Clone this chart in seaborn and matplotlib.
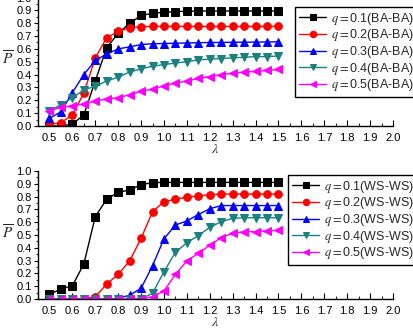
import numpy as np
import pandas as pd
import seaborn as sns
import matplotlib
matplotlib.use("Agg")
import matplotlib.pyplot as plt
from matplotlib.ticker import MultipleLocator, FormatStrFormatter

lam = [0.5, 0.55, 0.6, 0.65, 0.7, 0.75, 0.8, 0.85, 0.9, 0.95, 1.0,
       1.05, 1.1, 1.15, 1.2, 1.25, 1.3, 1.35, 1.4, 1.45, 1.5]

ba_q01 = [0.0, 0.0, 0.015, 0.086, 0.35, 0.61, 0.72, 0.80, 0.86, 0.877, 0.885,
          0.89, 0.893, 0.895, 0.895, 0.895, 0.895, 0.895, 0.895, 0.895, 0.895]
ba_q02 = [0.013, 0.026, 0.086, 0.256, 0.53, 0.687, 0.736, 0.765, 0.773, 0.775, 0.775,
          0.775, 0.775, 0.775, 0.775, 0.775, 0.775, 0.775, 0.775, 0.775, 0.775]
ba_q03 = [0.06, 0.11, 0.26, 0.40, 0.51, 0.56, 0.60, 0.616, 0.634, 0.64, 0.642,
          0.644, 0.646, 0.648, 0.65, 0.65, 0.652, 0.652, 0.653, 0.654, 0.655]
ba_q04 = [0.12, 0.165, 0.22, 0.28, 0.31, 0.35, 0.38, 0.42, 0.445, 0.465, 0.478,
          0.49, 0.50, 0.515, 0.52, 0.525, 0.53, 0.535, 0.54, 0.54, 0.545]
ba_q05 = [0.117, 0.146, 0.157, 0.17, 0.196, 0.21, 0.22, 0.243, 0.27, 0.287, 0.313,
          0.334, 0.35, 0.37, 0.385, 0.40, 0.41, 0.42, 0.425, 0.433, 0.44]

ws_q01 = [0.036, 0.078, 0.104, 0.273, 0.643, 0.78, 0.833, 0.852, 0.893, 0.909, 0.911,
          0.911, 0.911, 0.911, 0.911, 0.911, 0.911, 0.911, 0.911, 0.911, 0.911]
ws_q02 = [0.0, 0.0, 0.0, 0.0, 0.018, 0.117, 0.193, 0.297, 0.474, 0.682, 0.76,
          0.78, 0.794, 0.807, 0.815, 0.82, 0.82, 0.82, 0.82, 0.82, 0.82]
ws_q03 = [0.0, 0.0, 0.0, 0.0, 0.0, 0.0, 0.005, 0.03, 0.083, 0.26, 0.47,
          0.578, 0.61, 0.66, 0.705, 0.73, 0.73, 0.73, 0.73, 0.73, 0.73]
ws_q04 = [0.0, 0.0, 0.0, 0.0, 0.0, 0.0, 0.0, 0.0, 0.0, 0.045, 0.213,
          0.365, 0.44, 0.495, 0.56, 0.604, 0.63, 0.635, 0.635, 0.635, 0.635]
ws_q05 = [0.0, 0.0, 0.0, 0.0, 0.0, 0.0, 0.0, 0.0, 0.0, 0.018, 0.063,
          0.193, 0.297, 0.357, 0.42, 0.48, 0.513, 0.526, 0.526, 0.534, 0.536]

q_values = ["0.1", "0.2", "0.3", "0.4", "0.5"]
colors = ["#000000", "#FF0000", "#0000FF", "#1A8080", "#FF00FF"]
markers = ["s", "o", "^", "v", "<"]

sns.set_theme(style="ticks")
plt.rcParams["font.family"] = ["Liberation Sans", "DejaVu Sans"]
plt.rcParams["mathtext.fontset"] = "stix"

fig = plt.figure(figsize=(4.13, 3.30), dpi=100)
ax1 = fig.add_axes([38/413, 1 - 126/330, (393-38)/413, 128.5/330])
ax2 = fig.add_axes([38/413, 1 - 299/330, (393-38)/413, 128/330])


def draw(ax, series, tag, legend_bbox):
    for vals, q, c, m in zip(series, q_values, colors, markers):
        df = pd.DataFrame({"lam": lam, "P": vals})
        sns.lineplot(data=df, x="lam", y="P", ax=ax, color=c, marker=m,
                     markersize=5.5, markeredgecolor=c, linewidth=1.0,
                     label=r"$q=$" + q + "(" + tag + ")")
    ax.set_xlim(0.45, 2.0)
    ax.set_ylim(0.0, 1.0)
    ax.xaxis.set_major_locator(MultipleLocator(0.1))
    ax.xaxis.set_minor_locator(MultipleLocator(0.05))
    ax.yaxis.set_major_locator(MultipleLocator(0.1))
    ax.yaxis.set_minor_locator(MultipleLocator(0.05))
    ax.xaxis.set_major_formatter(FormatStrFormatter("%.1f"))
    ax.yaxis.set_major_formatter(FormatStrFormatter("%.1f"))
    ax.tick_params(axis="x", which="major", direction="in", length=4, width=0.8,
                   labelsize=8, pad=5, colors="#000000")
    ax.tick_params(axis="x", which="minor", direction="in", length=2, width=0.8)
    ax.tick_params(axis="y", which="major", direction="out", length=3, width=0.8,
                   labelsize=8, pad=1.5, colors="#000000")
    ax.tick_params(axis="y", which="minor", direction="out", length=1.5, width=0.8)
    for s in ["top", "right"]:
        ax.spines[s].set_visible(False)
    for s in ["left", "bottom"]:
        ax.spines[s].set_color("black")
        ax.spines[s].set_linewidth(1.0)
    ax.set_xlabel(r"$\lambda$", fontsize=10, labelpad=-1)
    ax.set_ylabel(r"$\overline{P}$", fontsize=11, rotation=0, ha="center", va="center")
    ax.yaxis.set_label_coords(-0.085, 0.52)
    leg = ax.legend(loc="upper left", bbox_to_anchor=legend_bbox,
                    bbox_transform=fig.transFigure, frameon=True, fancybox=False,
                    fontsize=9, handlelength=2.2, handletextpad=0.4,
                    labelspacing=0.05, borderpad=0.3, borderaxespad=0,
                    framealpha=1, markerscale=0.85)
    leg.get_frame().set_edgecolor("black")
    leg.get_frame().set_linewidth(1.0)


draw(ax1, [ba_q01, ba_q02, ba_q03, ba_q04, ba_q05], "BA-BA",
     (295/413, 1 - 7/330))
draw(ax2, [ws_q01, ws_q02, ws_q03, ws_q04, ws_q05], "WS-WS",
     (288/413, 1 - 175/330))

fig.savefig("out.png", dpi=100)
